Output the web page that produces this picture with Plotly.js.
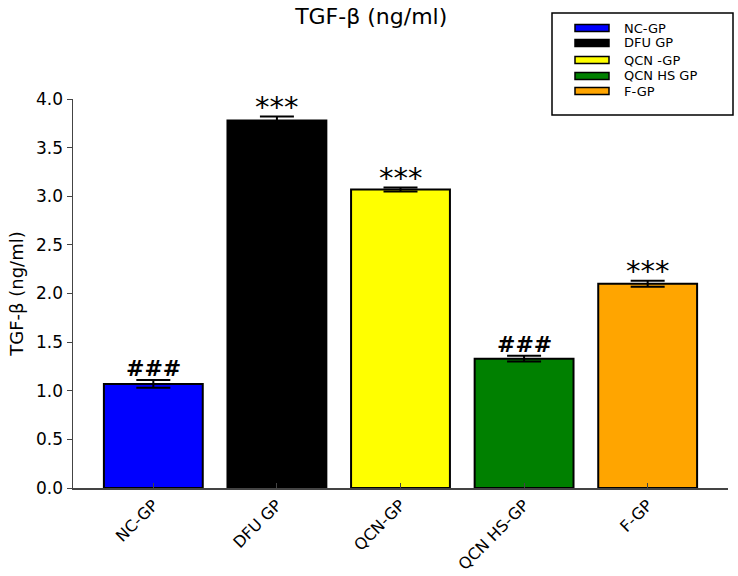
<!DOCTYPE html>
<html>
<head>
<meta charset="utf-8">
<script src="https://cdn.plot.ly/plotly-3.0.1.min.js"></script>
<style>html,body{margin:0;padding:0;background:#fff;}#chart{width:738px;height:576px;}</style>
</head>
<body>
<div id="chart"></div>
<script>
const categories = ["NC-GP", "DFU GP", "QCN-GP", "QCN HS-GP", "F-GP"];
const legendNames = ["NC-GP", "DFU GP", "QCN -GP", "QCN HS GP", "F-GP"];
const values = [1.07, 3.78, 3.07, 1.33, 2.10];
const errors = [0.04, 0.04, 0.02, 0.03, 0.03];
const colors = ["#0000ff", "#000000", "#ffff00", "#008000", "#ffa500"];
const marks = ["###", "***", "***", "###", "***"];

// plot area in pixels (for placing the hand-built legend box)
const L = 73, R = 728, T = 99, B = 488;
const px = v => (v - L) / (R - L);
const py = v => (B - v) / (B - T);

const traces = categories.map((c, i) => ({
  type: "bar",
  x: [c],
  y: [values[i]],
  name: legendNames[i],
  width: 0.8,
  showlegend: false,
  marker: {color: colors[i], line: {color: "#000", width: 2}},
  error_y: {type: "data", array: [errors[i]], visible: true, color: "#000", thickness: 2, width: 17}
}));

const annotations = categories.map((c, i) => ({
  x: c, y: values[i] + errors[i], xref: "x", yref: "y",
  text: marks[i], showarrow: false, yanchor: "bottom",
  yshift: marks[i] === "***" ? -9 : -3,
  font: {family: "DejaVu Sans", size: marks[i] === "***" ? 29 : 22, color: "#000", weight: marks[i] === "###" ? "bold" : "normal"}
}));

const shapes = [{
  type: "rect", xref: "paper", yref: "paper",
  x0: px(552), x1: px(733), y0: py(115), y1: py(13),
  line: {color: "#000", width: 1.5}, fillcolor: "#fff", layer: "above"
}];
const rowY = [28, 43, 60, 76, 91];
legendNames.forEach((n, i) => {
  shapes.push({
    type: "rect", xref: "paper", yref: "paper",
    x0: px(575), x1: px(609), y0: py(rowY[i] + 3.5), y1: py(rowY[i] - 3.5),
    line: {color: "#000", width: 1.5}, fillcolor: colors[i], layer: "above"
  });
  annotations.push({
    x: px(622), y: py(rowY[i]), xref: "paper", yref: "paper",
    xanchor: "left", yanchor: "middle", showarrow: false, text: n,
    font: {family: "DejaVu Sans", size: 13, color: "#000"}
  });
});

const layout = {
  width: 738, height: 576,
  margin: {l: L, r: 738 - R, t: T, b: 576 - B},
  paper_bgcolor: "#fff", plot_bgcolor: "#fff",
  font: {family: "DejaVu Sans", color: "#000"},
  title: {text: "TGF-β (ng/ml)", x: 0.503, xanchor: "center", y: 0.985, yanchor: "top", font: {size: 22, color: "#000"}},
  barmode: "overlay",
  bargap: 0,
  xaxis: {
    type: "category", range: [-0.65, 4.65],
    showline: true, linecolor: "#444", linewidth: 1.5,
    ticks: "inside", ticklen: 5, tickcolor: "#444",
    tickangle: -45, tickfont: {size: 16, color: "#000"},
    showgrid: false, zeroline: false
  },
  yaxis: {
    range: [0, 4.0], dtick: 0.5, tickformat: ".1f",
    showline: true, linecolor: "#444", linewidth: 1.5,
    ticks: "outside", ticklen: 5, tickcolor: "#444",
    tickfont: {size: 17, color: "#000"},
    showgrid: false, zeroline: false,
    title: {text: "TGF-β (ng/ml)", font: {size: 18, color: "#000"}, standoff: 8}
  },
  showlegend: false,
  shapes: shapes,
  annotations: annotations
};

Plotly.newPlot("chart", traces, layout, {displayModeBar: false, staticPlot: true});
</script>
</body>
</html>
